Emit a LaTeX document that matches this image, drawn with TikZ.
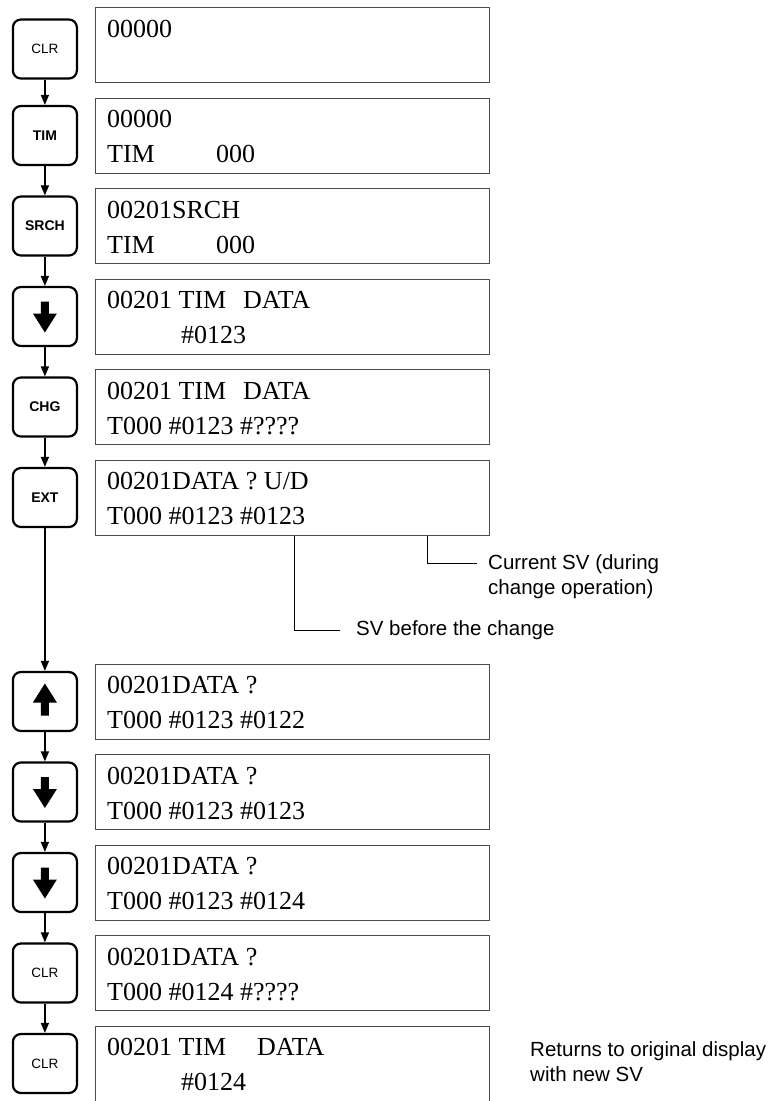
\documentclass[tikz,border=0pt]{standalone}
\usepackage{fontspec}
\setmainfont{Liberation Serif}
\setsansfont{Liberation Sans}
\usetikzlibrary{positioning,arrows.meta}
\newcommand{\TimZero}{\makebox[109pt][l]{TIM}000}
\newcommand{\TimData}[1]{\makebox[#1][l]{00201 TIM}DATA}
\newcommand{\SvIndent}{\hspace*{74pt}}

\begin{document}
\begin{tikzpicture}[x=1pt, y=-1pt,
  disp/.style={draw=black!70, line width=1pt, minimum width=394pt, minimum height=75pt, inner sep=0pt},
  dtext/.style={anchor=base west, inner sep=0pt, font=\fontsize{26}{35}\selectfont},
  key/.style={draw, line width=2.2pt, rounded corners=8pt, minimum width=64pt, minimum height=59pt, inner sep=0pt, font=\sffamily\bfseries\fontsize{14}{16}\selectfont},
  keyplain/.style={key, font=\sffamily\fontsize{13.5}{15}\selectfont},
  arrow/.style={-{Triangle[length=10pt,width=8pt]}, line width=1.5pt},
  callout/.style={line width=0.9pt},
  note/.style={align=left, inner sep=0pt, font=\sffamily\fontsize{20.5}{25}\selectfont},
  dnglyph/.pic={\fill (-4,-15) -- (4,-15) -- (4,-3) -- (12,-3) -- (0,16) -- (-12,-3) -- (-4,-3) -- cycle;},
  upglyph/.pic={\fill (-4,14) -- (4,14) -- (4,1) -- (12,1) -- (0,-18) -- (-12,1) -- (-4,1) -- cycle;}
]
\useasboundingbox (0,0) rectangle (778,1101);

% displays
\node[disp, anchor=north west] (d1) at (95,7) {};
\node[disp, below=14.5pt of d1] (d2) {};
\node[disp, below=14.5pt of d2] (d3) {};
\node[disp, below=14.5pt of d3] (d4) {};
\node[disp, below=14.5pt of d4] (d5) {};
\node[disp, below=14.5pt of d5] (d6) {};
\node[disp, below=128pt of d6] (d7) {};
\node[disp, below=14.5pt of d7] (d8) {};
\node[disp, below=14.5pt of d8] (d9) {};
\node[disp, below=14.5pt of d9] (d10) {};
\node[disp, below=14.5pt of d10] (d11) {};

% display texts
\node[dtext] (d1a) at ([shift={(12,30)}]d1.north west) {00000};
\node[dtext] (d2a) at ([shift={(12,30)}]d2.north west) {00000};
\node[dtext] (d2b) at ([shift={(12,65)}]d2.north west) {\TimZero};
\node[dtext] (d3a) at ([shift={(12,30)}]d3.north west) {00201SRCH};
\node[dtext] (d3b) at ([shift={(12,65)}]d3.north west) {\TimZero};
\node[dtext] (d4a) at ([shift={(12,30)}]d4.north west) {\TimData{136pt}};
\node[dtext] (d4b) at ([shift={(12,65)}]d4.north west) {\SvIndent\#0123};
\node[dtext] (d5a) at ([shift={(12,30)}]d5.north west) {\TimData{136pt}};
\node[dtext] (d5b) at ([shift={(12,65)}]d5.north west) {T000 \#0123 \#????};
\node[dtext] (d6a) at ([shift={(12,30)}]d6.north west) {00201DATA ? U/D};
\node[dtext] (d6b) at ([shift={(12,65)}]d6.north west) {T000 \#0123 \#0123};
\node[dtext] (d7a) at ([shift={(12,30)}]d7.north west) {00201DATA ?};
\node[dtext] (d7b) at ([shift={(12,65)}]d7.north west) {T000 \#0123 \#0122};
\node[dtext] (d8a) at ([shift={(12,30)}]d8.north west) {00201DATA ?};
\node[dtext] (d8b) at ([shift={(12,65)}]d8.north west) {T000 \#0123 \#0123};
\node[dtext] (d9a) at ([shift={(12,30)}]d9.north west) {00201DATA ?};
\node[dtext] (d9b) at ([shift={(12,65)}]d9.north west) {T000 \#0123 \#0124};
\node[dtext] (d10a) at ([shift={(12,30)}]d10.north west) {00201DATA ?};
\node[dtext] (d10b) at ([shift={(12,65)}]d10.north west) {T000 \#0124 \#????};
\node[dtext] (d11a) at ([shift={(12,30)}]d11.north west) {\TimData{150pt}};
\node[dtext] (d11b) at ([shift={(12,65)}]d11.north west) {\SvIndent\#0124};

% keys
\node[keyplain, left=17pt of d1, yshift=-4pt] (k1) {CLR};
\node[key, left=17pt of d2] (k2) {TIM};
\node[key, left=17pt of d3] (k3) {SRCH};
\node[key, left=17pt of d4] (k4) {};
\node[key, left=17pt of d5] (k5) {CHG};
\node[key, left=17pt of d6] (k6) {EXT};
\node[key, left=17pt of d7] (k7) {};
\node[key, left=17pt of d8] (k8) {};
\node[key, left=17pt of d9] (k9) {};
\node[keyplain, left=17pt of d10] (k10) {CLR};
\node[keyplain, left=17pt of d11] (k11) {CLR};
\pic at (k4) {dnglyph};
\pic at (k7) {upglyph};
\pic at (k8) {dnglyph};
\pic at (k9) {dnglyph};

\draw[arrow] (k1) -- (k2);
\draw[arrow] (k2) -- (k3);
\draw[arrow] (k3) -- (k4);
\draw[arrow] (k4) -- (k5);
\draw[arrow] (k5) -- (k6);
\draw[arrow] (k6) -- (k7);
\draw[arrow] (k7) -- (k8);
\draw[arrow] (k8) -- (k9);
\draw[arrow] (k9) -- (k10);
\draw[arrow] (k10) -- (k11);

% callouts
\coordinate (p1) at ([xshift=199pt]d6.south west);
\coordinate (p2) at ([xshift=332pt]d6.south west);
\coordinate (c1) at (340,630);
\coordinate (c2) at (477,563);
\node[note, right=16pt of c1] (svold) {SV before the change};
\node[note, anchor=base west] (svcur) at ([shift={(11,31)}]c2) {Current SV (during\\change operation)};
\draw[callout] (p1) |- (c1);
\draw[callout] (p2) |- (c2);
\node[note, anchor=base west] (back) at ([shift={(40,56)}]d11.north east) {Returns to original display\\with new SV};
\end{tikzpicture}
\end{document}
